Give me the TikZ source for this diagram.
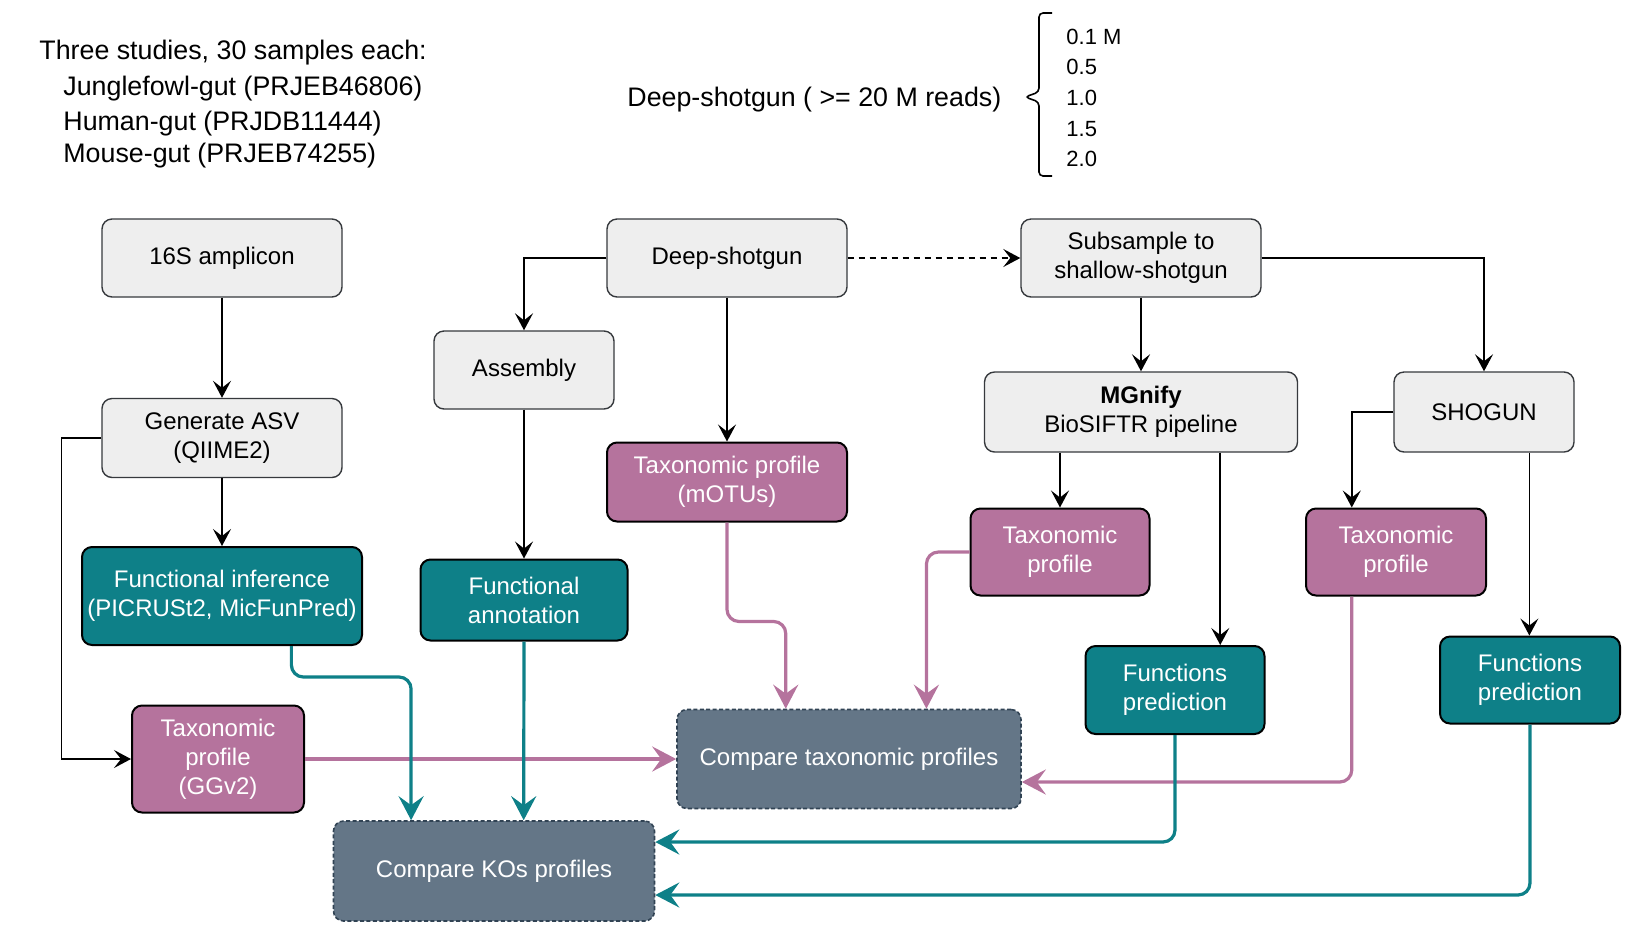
\documentclass[tikz,border=0pt]{standalone}
\usepackage{fontspec}
\setmainfont{Liberation Sans}
\usetikzlibrary{arrows.meta,calc}
\definecolor{grayfill}{HTML}{EEEEEE}
\definecolor{graydraw}{HTML}{36393D}
\definecolor{pinkfill}{HTML}{B5739D}
\definecolor{tealfill}{HTML}{0E8088}
\definecolor{cmpfill}{HTML}{647687}
\definecolor{cmpdraw}{HTML}{314354}
\tikzset{
  box/.style={rectangle, rounded corners=5pt, align=center, inner sep=2pt,
    font=\fontsize{12}{14.5}\selectfont},
  graybox/.style={box, fill=grayfill, draw=graydraw, line width=0.7pt},
  pinkbox/.style={box, fill=pinkfill, draw=black, line width=1pt, text=white},
  tealbox/.style={box, fill=tealfill, draw=black, line width=1pt, text=white},
  cmpbox/.style={box, fill=cmpfill, draw=cmpdraw, line width=0.8pt,
    dash pattern=on 2pt off 1.2pt, text=white},
  blk/.style={draw=black, line width=0.8pt, -{Stealth[length=8.5pt,width=9pt,inset=3.5pt]}},
  pk/.style={draw=pinkfill, line width=1.6pt, rounded corners=6pt,
    -{Stealth[length=12pt,width=12.5pt,inset=4.5pt]}},
  tl/.style={draw=tealfill, line width=1.6pt, rounded corners=6pt,
    -{Stealth[length=12pt,width=12.5pt,inset=4.5pt]}},
  hdr/.style={anchor=west, inner sep=0pt, font=\fontsize{13.4}{16}\selectfont},
  lst/.style={anchor=west, inner sep=0pt, font=\fontsize{11}{13}\selectfont},
}
\begin{document}
\begin{tikzpicture}[x=0.5pt,y=-0.5pt]
\useasboundingbox (0,0) rectangle (1648,944);

% header texts
\node[hdr] (h1) at (39,53) {Three studies, 30 samples each:};
\node[hdr] (h2) at (63,89) {Junglefowl-gut (PRJEB46806)};
\node[hdr] (h3) at (63,124) {Human-gut (PRJDB11444)};
\node[hdr] (h4) at (63,156) {Mouse-gut (PRJEB74255)};
\node[hdr] (h5) at (627,100) {Deep-shotgun ( >= 20 M reads)};
\draw[line width=0.8pt, rounded corners=2pt] (1052,13) -- (1039,13) -- (1039,92) -- (1025,97) -- (1039,102) -- (1039,176) -- (1052,176);
\node[lst] (l1) at (1066,37) {0.1 M};
\node[lst] (l2) at (1066,67) {0.5};
\node[lst] (l3) at (1066,98) {1.0};
\node[lst] (l4) at (1066,129) {1.5};
\node[lst] (l5) at (1066,159) {2.0};

% nodes
\node[graybox, minimum width=120pt, minimum height=39pt] (s16) at (222,258) {16S amplicon};
\node[graybox, minimum width=120pt, minimum height=39pt] (deep) at (727,258) {Deep-shotgun};
\node[graybox, minimum width=120pt, minimum height=39pt] (sub) at (1141,258) {Subsample to\\shallow-shotgun};
\node[graybox, minimum width=90pt, minimum height=39pt] (asm) at (524,370) {Assembly};
\node[graybox, minimum width=120pt, minimum height=39.5pt] (asv) at (222,438) {Generate ASV\\(QIIME2)};
\node[graybox, minimum width=156.5pt, minimum height=40pt] (mg) at (1141,412) {\textbf{MGnify}\\BioSIFTR pipeline};
\node[graybox, minimum width=90pt, minimum height=40pt] (sho) at (1484,412) {SHOGUN};
\node[pinkbox, minimum width=120pt, minimum height=39.5pt] (motu) at (727,482) {Taxonomic profile\\(mOTUs)};
\node[tealbox, minimum width=140pt, minimum height=49pt] (fi) at (222,596) {Functional inference\\(PICRUSt2, MicFunPred)};
\node[tealbox, minimum width=103.5pt, minimum height=40.5pt] (fa) at (524,600) {Functional\\annotation};
\node[pinkbox, minimum width=89.5pt, minimum height=43.5pt] (tmg) at (1060,552) {Taxonomic\\profile};
\node[pinkbox, minimum width=90pt, minimum height=43.5pt] (tsh) at (1396,552) {Taxonomic\\profile};
\node[tealbox, minimum width=89.5pt, minimum height=44pt] (fmg) at (1175,690) {Functions\\prediction};
\node[tealbox, minimum width=90pt, minimum height=43.5pt] (fsh) at (1530,680) {Functions\\prediction};
\node[pinkbox, minimum width=86pt, minimum height=53.5pt] (ggv) at (218,759) {Taxonomic\\profile\\(GGv2)};
\node[cmpbox, minimum width=172pt, minimum height=49.5pt] (ctp) at (849,759) {Compare taxonomic profiles};
\node[cmpbox, minimum width=160.5pt, minimum height=50pt] (cko) at (494,871) {Compare KOs profiles};

% helper coordinates
\coordinate (fmgtop) at ($(fmg.north west)!0.75!(fmg.north east)$);
\coordinate (tshtop) at ($(tsh.north west)!0.257!(tsh.north east)$);
\coordinate (tshbot) at ($(tsh.south west)!0.257!(tsh.south east)$);
\coordinate (shobot) at ($(sho.south west)!0.75!(sho.south east)$);
\coordinate (ctpA) at ($(ctp.north west)!0.317!(ctp.north east)$);
\coordinate (ctpB) at ($(ctp.north west)!0.724!(ctp.north east)$);
\coordinate (ctpC) at ($(ctp.east)+(0,23)$);
\coordinate (fiB) at ($(fi.south west)!0.746!(fi.south east)$);
\coordinate (ckoA) at ($(cko.north west)!0.243!(cko.north east)$);
\coordinate (ckoB) at ($(cko.north west)!0.592!(cko.north east)$);
\coordinate (ckoC) at ($(cko.east)+(0,24)$);
\coordinate (ckoD) at ($(cko.east)+(0,-29)$);

% black connectors
\draw[blk] (s16) -- (asv);
\draw[blk] (asv) -- (fi);
\draw[blk] (asv.west) -- ++(-40,0) |- (ggv.west);
\draw[blk] (deep.west) -| (asm.north);
\draw[blk] (deep.south) -- (motu.north);
\draw[blk, dash pattern=on 3pt off 2.5pt] (deep.east) -- (sub.west);
\draw[blk] (sub.south) -- (mg.north);
\draw[blk] (sub.east) -| (sho.north);
\draw[blk] (mg.south -| tmg.north) -- (tmg.north);
\draw[blk] (mg.south -| fmgtop) -- (fmgtop);
\draw[blk] (sho.west) -| (tshtop);
\draw[blk] (shobot) -- (shobot |- fsh.north);
\draw[blk] (asm) -- (fa);

% coloured connectors
\draw[pk] (motu.south) -- ++(0,99) -| (ctpA);
\draw[pk] (tmg.west) -| (ctpB);
\draw[pk] (tshbot) |- (ctpC);
\draw[pk] (ggv.east) -- (ctp.west);
\draw[tl] (fiB) -- ++(0,31) -| (ckoA);
\draw[tl] (fa.south) -- (ckoB);
\draw[tl] (fmg.south) |- (ckoD);
\draw[tl] (fsh.south) |- (ckoC);
\end{tikzpicture}
\end{document}
